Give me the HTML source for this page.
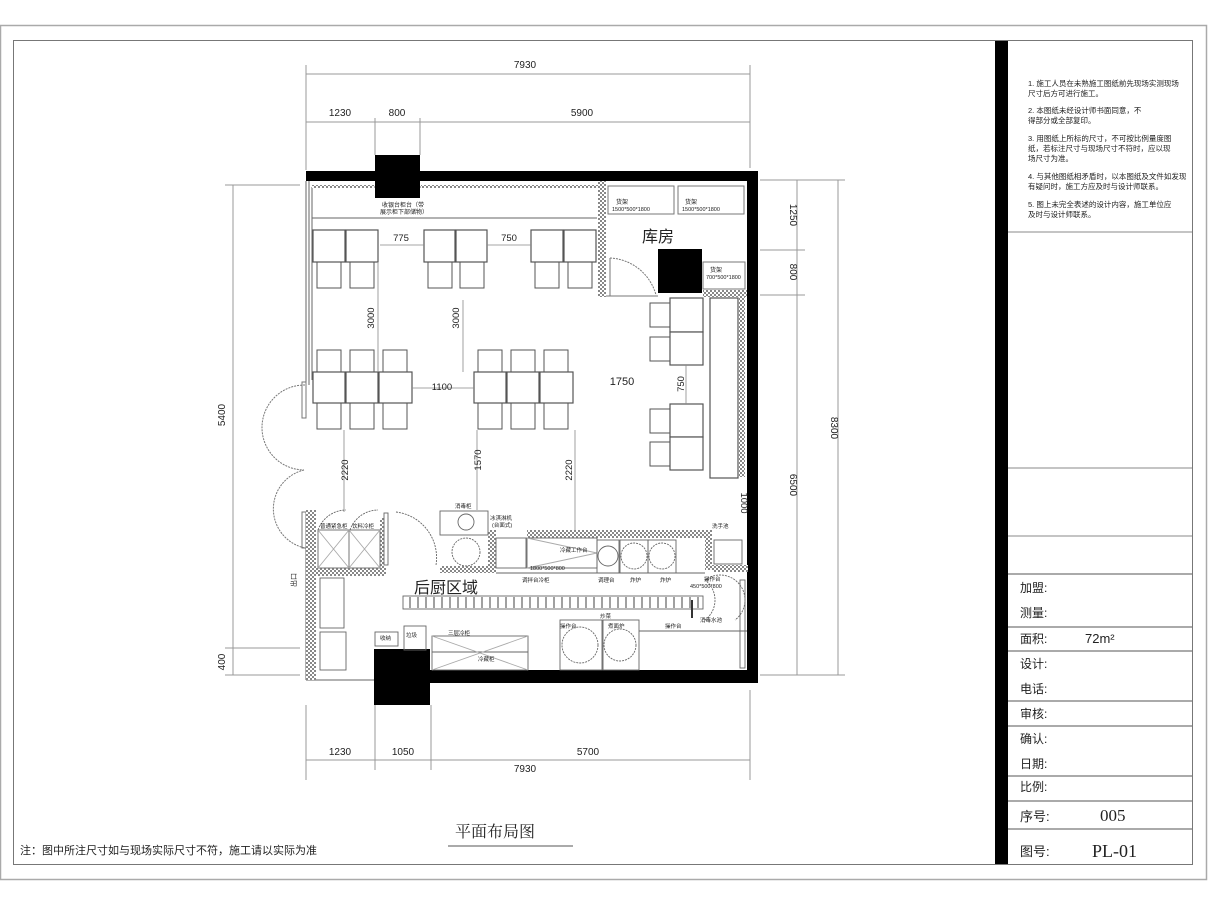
<!DOCTYPE html>
<html><head><meta charset="utf-8"><style>
html,body{margin:0;padding:0;background:#fff;}
svg{display:block;}
text{font-family:"Liberation Sans","Noto Sans CJK SC",sans-serif;fill:#222;}
.s{font-family:"Liberation Serif","Noto Serif CJK SC",serif;}
</style></head><body>
<svg width="1208" height="906" viewBox="0 0 1208 906" xmlns="http://www.w3.org/2000/svg">
<defs>
<pattern id="h" width="4" height="4" patternUnits="userSpaceOnUse">
<rect width="4" height="4" fill="#fff"/><rect width="2" height="2" fill="#888"/><rect x="2" y="2" width="2" height="2" fill="#888"/>
</pattern>
</defs>
<!-- frames -->
<rect x="0.5" y="25.5" width="1206" height="854" fill="none" stroke="#aaa" stroke-width="1.5"/>
<rect x="13.5" y="40.5" width="1179" height="824" fill="none" stroke="#777" stroke-width="1"/>
<!-- title block -->
<rect x="995" y="41" width="13" height="823" fill="#000"/>
<g stroke="#888" stroke-width="1">
<line x1="1008" y1="232" x2="1192" y2="232"/>
<line x1="1008" y1="468" x2="1192" y2="468"/>
<line x1="1008" y1="536" x2="1192" y2="536"/>
</g>
<g stroke="#555" stroke-width="1">
<line x1="1008" y1="574" x2="1192" y2="574"/>
<line x1="1008" y1="627" x2="1192" y2="627"/>
<line x1="1008" y1="651" x2="1192" y2="651"/>
<line x1="1008" y1="701" x2="1192" y2="701"/>
<line x1="1008" y1="726" x2="1192" y2="726"/>
<line x1="1008" y1="776" x2="1192" y2="776"/>
<line x1="1008" y1="801" x2="1192" y2="801"/>
<line x1="1008" y1="829" x2="1192" y2="829"/>
</g>
<g font-size="7.5">
<text x="1028" y="86">1. 施工人员在未熟施工图纸前先现场实测现场</text>
<text x="1028" y="96">尺寸后方可进行施工。</text>
<text x="1028" y="113">2. 本图纸未经设计师书面同意，不</text>
<text x="1028" y="123">得部分或全部复印。</text>
<text x="1028" y="141">3. 用图纸上所标的尺寸，不可按比例量度图</text>
<text x="1028" y="151">纸，若标注尺寸与现场尺寸不符时，应以现</text>
<text x="1028" y="161">场尺寸为准。</text>
<text x="1028" y="179">4. 与其他图纸相矛盾时，以本图纸及文件如发现</text>
<text x="1028" y="189">有疑问时，施工方应及时与设计师联系。</text>
<text x="1028" y="207">5. 图上未完全表述的设计内容，施工单位应</text>
<text x="1028" y="217">及时与设计师联系。</text>
</g>
<g font-size="12">
<text x="1020" y="592">加盟:</text>
<text x="1020" y="617">测量:</text>
<text x="1020" y="643">面积:</text>
<text x="1085" y="643" font-size="13">72m²</text>
<text x="1020" y="668">设计:</text>
<text x="1020" y="693">电话:</text>
<text x="1020" y="718">审核:</text>
<text x="1020" y="743">确认:</text>
<text x="1020" y="768">日期:</text>
<text x="1020" y="791">比例:</text>
<text x="1020" y="821" font-size="13">序号:</text>
<text x="1020" y="856" font-size="13">图号:</text>
</g>
<text x="1100" y="821" font-size="17" class="s">005</text>
<text x="1092" y="857" font-size="18" class="s">PL-01</text>
<!-- notes -->
<text x="20" y="854" font-size="11">注：图中所注尺寸如与现场实际尺寸不符，施工请以实际为准</text>
<text x="455" y="837" font-size="16" class="s">平面布局图</text>
<line x1="448" y1="846" x2="573" y2="846" stroke="#555"/>

<!-- dimensions -->
<g stroke="#999" stroke-width="1" fill="none">
<line x1="306" y1="74" x2="750" y2="74"/>
<line x1="306" y1="122" x2="750" y2="122"/>
<line x1="306" y1="65" x2="306" y2="170"/>
<line x1="750" y1="65" x2="750" y2="168"/>
<line x1="375" y1="118" x2="375" y2="155"/>
<line x1="420" y1="118" x2="420" y2="155"/>
<line x1="306" y1="705" x2="306" y2="780"/>
<line x1="375" y1="705" x2="375" y2="770"/>
<line x1="431" y1="705" x2="431" y2="770"/>
<line x1="750" y1="690" x2="750" y2="780"/>
<line x1="306" y1="760" x2="750" y2="760"/>
<line x1="233" y1="185" x2="233" y2="675"/>
<line x1="225" y1="185" x2="300" y2="185"/>
<line x1="225" y1="648" x2="300" y2="648"/>
<line x1="225" y1="675" x2="300" y2="675"/>
<line x1="797" y1="180" x2="797" y2="675"/>
<line x1="838" y1="180" x2="838" y2="675"/>
<line x1="760" y1="180" x2="845" y2="180"/>
<line x1="760" y1="250" x2="805" y2="250"/>
<line x1="760" y1="295" x2="805" y2="295"/>
<line x1="760" y1="675" x2="845" y2="675"/>
</g>
<g font-size="10" class="s" text-anchor="middle">
<text x="525" y="68">7930</text>
<text x="340" y="116">1230</text>
<text x="397" y="116">800</text>
<text x="582" y="116">5900</text>
<text x="340" y="755">1230</text>
<text x="403" y="755">1050</text>
<text x="588" y="755">5700</text>
<text x="525" y="772">7930</text>
<text transform="translate(225 415) rotate(-90)">5400</text>
<text transform="translate(225 662) rotate(-90)">400</text>
<text transform="translate(790 215) rotate(90)">1250</text>
<text transform="translate(790 272) rotate(90)">800</text>
<text transform="translate(790 485) rotate(90)">6500</text>
<text transform="translate(831 428) rotate(90)">8300</text>
</g>

<!-- walls -->
<rect x="306" y="171" width="452" height="10" fill="#000"/>
<rect x="747" y="171" width="11" height="512" fill="#000"/>
<rect x="430" y="670" width="328" height="13" fill="#000"/>
<rect x="375" y="155" width="45" height="43" fill="#000"/>
<rect x="374" y="649" width="56" height="56" fill="#000"/>
<rect x="658" y="249" width="44" height="44" fill="#000"/>
<g stroke="#666" fill="none" stroke-width="1">
<line x1="306" y1="181" x2="306" y2="385"/>
<line x1="309" y1="181" x2="309" y2="385"/>
<line x1="312" y1="187" x2="312" y2="380"/>
<line x1="306" y1="545" x2="306" y2="680"/>
<line x1="306" y1="680" x2="374" y2="680"/>
<line x1="312" y1="218" x2="597" y2="218"/>
<line x1="420" y1="187" x2="597" y2="187"/>
<line x1="312" y1="187" x2="375" y2="187"/>
</g>
<rect x="312" y="185" width="62" height="3" fill="url(#h)"/>
<rect x="421" y="185" width="177" height="3" fill="url(#h)"/>
<rect x="598" y="181" width="8" height="116" fill="url(#h)"/>
<rect x="703" y="290" width="44" height="7" fill="url(#h)"/>
<rect x="739" y="297" width="6" height="180" fill="url(#h)"/>
<text x="382" y="207" font-size="6">收银台柜台（带</text>
<text x="380" y="214" font-size="6">展示柜下部储物）</text>

<!-- storage -->
<g stroke="#777" fill="none">
<rect x="608" y="186" width="66" height="28"/>
<rect x="678" y="186" width="66" height="28"/>
<rect x="703" y="262" width="42" height="27"/>
<line x1="606" y1="296" x2="658" y2="296"/>
<path d="M610 258 A50 50 0 0 1 656 295" stroke-dasharray="2 1"/>
<line x1="610" y1="258" x2="610" y2="296"/>
</g>
<text x="616" y="204" font-size="6">货架</text><text x="612" y="211" font-size="5.5">1500*500*1800</text>
<text x="685" y="204" font-size="6">货架</text><text x="682" y="211" font-size="5.5">1500*500*1800</text>
<text x="710" y="272" font-size="6">货架</text><text x="706" y="279" font-size="5.5">700*500*1800</text>
<text x="642" y="242" font-size="16">库房</text>

<!-- dining tables -->
<g stroke="#555" fill="#fff" stroke-width="1.2">
<rect x="313" y="230" width="32" height="32"/><rect x="346" y="230" width="32" height="32"/>
<rect x="424" y="230" width="31" height="32"/><rect x="456" y="230" width="31" height="32"/>
<rect x="531" y="230" width="32" height="32"/><rect x="564" y="230" width="32" height="32"/>
<rect x="313" y="372" width="32" height="31"/><rect x="346" y="372" width="32" height="31"/><rect x="379" y="372" width="33" height="31"/>
<rect x="474" y="372" width="32" height="31"/><rect x="507" y="372" width="32" height="31"/><rect x="540" y="372" width="33" height="31"/>
<rect x="670" y="298" width="33" height="34"/><rect x="670" y="332" width="33" height="33"/>
<rect x="670" y="404" width="33" height="33"/><rect x="670" y="437" width="33" height="33"/>
<rect x="710" y="298" width="28" height="180" fill="none"/>
</g>
<g stroke="#555" fill="none" stroke-width="1">
<path d="M317 262 v26 h24 v-26 M350 262 v26 h24 v-26"/>
<path d="M428 262 v26 h24 v-26 M460 262 v26 h24 v-26"/>
<path d="M535 262 v26 h24 v-26 M568 262 v26 h24 v-26"/>
<path d="M317 372 v-22 h24 v22 M350 372 v-22 h24 v22 M383 372 v-22 h24 v22"/>
<path d="M478 372 v-22 h24 v22 M511 372 v-22 h24 v22 M544 372 v-22 h24 v22"/>
<path d="M317 403 v26 h24 v-26 M350 403 v26 h24 v-26 M383 403 v26 h24 v-26"/>
<path d="M478 403 v26 h24 v-26 M511 403 v26 h24 v-26 M544 403 v26 h24 v-26"/>
<path d="M670 303 h-20 v24 h20 M670 337 h-20 v24 h20 M670 409 h-20 v24 h20 M670 442 h-20 v24 h20"/>
</g>
<g stroke="#888" stroke-width="0.8">
<line x1="380" y1="245" x2="424" y2="245"/><line x1="487" y1="245" x2="531" y2="245"/>
<line x1="378" y1="263" x2="378" y2="372"/><line x1="463" y1="300" x2="463" y2="372"/>
<line x1="412" y1="388" x2="474" y2="388"/>
<line x1="344" y1="430" x2="344" y2="512"/><line x1="477" y1="430" x2="477" y2="510"/>
<line x1="575" y1="430" x2="575" y2="530"/>
<line x1="686" y1="365" x2="686" y2="404"/>
</g>
<g font-size="9.5" class="s" text-anchor="middle">
<text x="401" y="241">775</text><text x="509" y="241">750</text>
<text transform="translate(374 318) rotate(-90)">3000</text>
<text transform="translate(459 318) rotate(-90)">3000</text>
<text x="442" y="390">1100</text>
<text x="622" y="385" font-size="11">1750</text>
<text transform="translate(684 384) rotate(-90)">750</text>
<text transform="translate(348 470) rotate(-90)">2220</text>
<text transform="translate(481 460) rotate(-90)">1570</text>
<text transform="translate(572 470) rotate(-90)">2220</text>
<text transform="translate(741 503) rotate(90)">1000</text>
<text transform="translate(296 580) rotate(-90)" font-size="7">出口</text>
</g>

<!-- entrance doors -->
<g stroke="#777" fill="none" stroke-dasharray="2 1">
<path d="M305 385 A42 42 0 0 0 304 470"/>
<path d="M304 470 A40 40 0 0 0 305 548"/>
</g>
<rect x="302" y="382" width="4" height="36" fill="none" stroke="#777"/>
<rect x="302" y="512" width="4" height="36" fill="none" stroke="#777"/>

<!-- kitchen walls (hatched) -->
<g fill="url(#h)">
<rect x="306" y="510" width="10" height="170"/>
<rect x="316" y="568" width="70" height="8"/>
<rect x="380" y="518" width="4" height="50"/>
<rect x="440" y="566" width="56" height="7"/>
<rect x="488" y="530" width="8" height="42"/>
<rect x="527" y="530" width="178" height="8"/>
<rect x="705" y="530" width="7" height="40"/>
<rect x="712" y="565" width="36" height="7"/>
</g>
<g stroke="#666" fill="none" stroke-width="0.9">
<rect x="318" y="530" width="62" height="38"/>
<line x1="349" y1="530" x2="349" y2="568"/>
<path d="M318 530 L349 568 M349 530 L318 568 M349 530 L380 568 M380 530 L349 568" stroke="#aaa"/>
<path d="M318 530 A30 30 0 0 1 346 510 M350 530 A30 30 0 0 1 378 510" stroke-dasharray="2 1"/>
<path d="M396 512 A46 46 0 0 1 436 565" stroke-dasharray="2 1"/>
<rect x="384" y="513" width="4" height="52"/>
<rect x="320" y="578" width="24" height="50"/>
<rect x="320" y="632" width="26" height="38"/>
<rect x="440" y="511" width="48" height="24"/>
<circle cx="466" cy="552" r="14" stroke-dasharray="2 1"/>
<circle cx="466" cy="522" r="8"/>
<rect x="496" y="538" width="30" height="30"/>
<line x1="496" y1="573" x2="705" y2="573"/>
<rect x="527" y="538" width="70" height="30"/>
<path d="M527 538 L597 553 L527 568" stroke="#aaa"/>
<rect x="597" y="540" width="22" height="33"/>
<circle cx="608" cy="556" r="10"/>
<rect x="620" y="540" width="28" height="33"/><rect x="648" y="540" width="28" height="33"/>
<circle cx="634" cy="556" r="13" stroke-dasharray="2 1"/><circle cx="662" cy="556" r="13" stroke-dasharray="2 1"/>
<rect x="714" y="540" width="28" height="24"/>
<rect x="403" y="596" width="300" height="13"/>
<rect x="375" y="632" width="23" height="14"/>
<rect x="404" y="626" width="22" height="24"/>
<rect x="432" y="636" width="96" height="34"/>
<line x1="432" y1="652" x2="528" y2="652"/>
<path d="M432 636 L528 670 M432 670 L528 636" stroke="#aaa"/>
<rect x="560" y="620" width="42" height="50"/><rect x="603" y="620" width="36" height="50"/>
<circle cx="580" cy="645" r="18" stroke-dasharray="2 1"/><circle cx="620" cy="645" r="16" stroke-dasharray="2 1"/>
<line x1="639" y1="631" x2="747" y2="631"/>
<path d="M705 580 A25 25 0 0 1 735 620 M705 620 A25 25 0 0 0 705 580" stroke-dasharray="2 1"/>
<line x1="692" y1="600" x2="692" y2="618" stroke="#333" stroke-width="2"/>
<rect x="740" y="580" width="5" height="88"/>
</g>
<g stroke="#777" stroke-width="1.4">
<path d="M410 597 v11 M418 597 v11 M426 597 v11 M434 597 v11 M442 597 v11 M450 597 v11 M458 597 v11 M466 597 v11 M474 597 v11 M482 597 v11 M490 597 v11 M498 597 v11 M506 597 v11 M514 597 v11 M522 597 v11 M530 597 v11 M538 597 v11 M546 597 v11 M554 597 v11 M562 597 v11 M570 597 v11 M578 597 v11 M586 597 v11 M594 597 v11 M602 597 v11 M610 597 v11 M618 597 v11 M626 597 v11 M634 597 v11 M642 597 v11 M650 597 v11 M658 597 v11 M666 597 v11 M674 597 v11 M682 597 v11 M690 597 v11 M698 597 v11"/>
</g>
<g font-size="5.5">
<text x="320" y="528">普通紧急柜</text><text x="352" y="528">饮料冷柜</text>
<text x="455" y="508">消毒柜</text><text x="490" y="520">冰淇淋机</text><text x="492" y="527">(台面式)</text>
<text x="560" y="552">冷藏工作台</text><text x="530" y="570">1800*500*800</text>
<text x="522" y="582">调拌台冷柜</text><text x="598" y="582">调理台</text><text x="630" y="582">炸炉</text><text x="660" y="582">炸炉</text>
<text x="704" y="581">操作台</text><text x="690" y="588">450*500*800</text>
<text x="712" y="528">洗手池</text>
<text x="560" y="628">操作台</text><text x="600" y="618">炒菜</text><text x="608" y="628">煮面炉</text>
<text x="448" y="635">三层冷柜</text><text x="478" y="661">冷藏柜</text>
<text x="665" y="628">操作台</text><text x="700" y="622">消毒水池</text>
<text x="380" y="640">收纳</text><text x="406" y="637">垃圾</text>
</g>
<text x="414" y="593" font-size="16">后厨区域</text>
</svg>
</body></html>
